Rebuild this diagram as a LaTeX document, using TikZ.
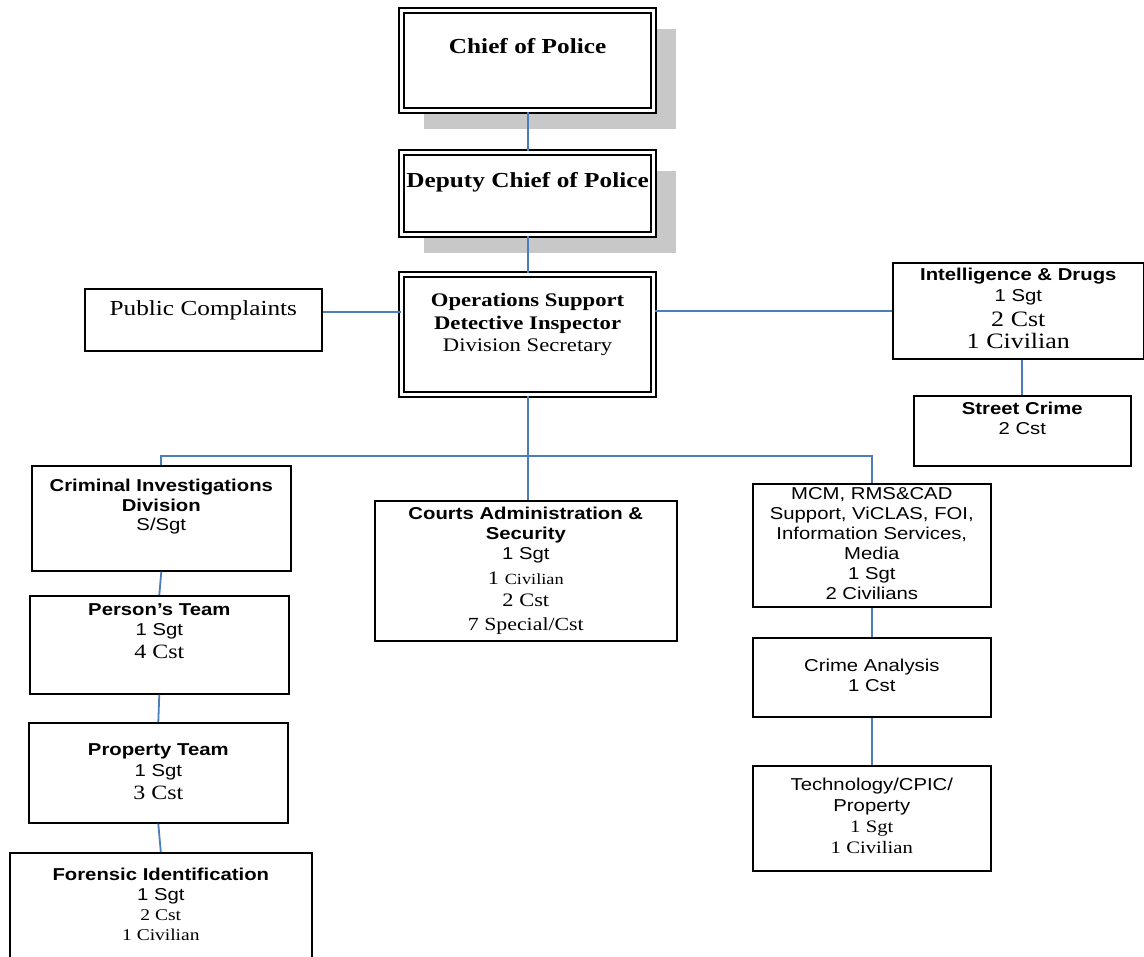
\documentclass[tikz,border=0pt]{standalone}
\usepackage{fontspec}
\setmainfont{Liberation Serif}[FakeStretch=1.18]
\setsansfont{Liberation Sans}[FakeStretch=1.18]
\usepackage{xcolor}
\usepackage{tikz}
\usetikzlibrary{shadows}

\definecolor{linkblue}{HTML}{4A7EBB}
\definecolor{shadowgray}{HTML}{C8C8C8}

% one line (or block) of text, optional arg = distance from the line above
\newcommand{\hdr}[2][20]{{\sffamily\bfseries\fontsize{17.2}{#1}\selectfont\spaceskip=0.33em #2\par}}
\newcommand{\snf}[2][20]{{\sffamily\fontsize{17.2}{#1}\selectfont\spaceskip=0.33em #2\par}}
\newcommand{\srf}[3][22]{{\fontsize{#2}{#1}\selectfont\spaceskip=0.3em #3\par}}

\tikzset{
  unit/.style={draw, fill=white, line width=1.6pt, anchor=north west, inner sep=0pt, align=center},
  topunit/.style={unit, double, line width=2.2pt, double distance=2.5pt},
  boxshadow/.style={drop shadow={shadow xshift=22pt, shadow yshift=-18pt, fill=shadowgray, opacity=1}},
  link/.style={draw=linkblue, line width=1.8pt},
}

\begin{document}
\begin{tikzpicture}[x=1pt, y=-1pt]
\useasboundingbox (0,0) rectangle (1144,957);

% top of the chart
\node[topunit, boxshadow, text width=252pt, text height=43pt, text depth=57pt] (chief) at (400.5,9.5)
  {\srf{21.4}{\bfseries Chief of Police}};
\node[topunit, boxshadow, text width=252pt, text height=34.5pt, text depth=47.5pt] (deputy) at (400.5,151.5)
  {\srf{21.4}{\bfseries Deputy Chief of Police}};
\node[topunit, text width=252pt, text height=31.5pt, text depth=88.5pt] (ops) at (400.5,273.5)
  {\srf[23]{19.2}{\bfseries Operations Support\\Detective Inspector}\srf{19.2}{Division Secretary}};

% side units
\node[unit, text width=237pt, text height=27pt, text depth=35pt] (pub) at (84,288)
  {\srf{21.4}{Public Complaints}};
\node[unit, text width=251pt, text height=18pt, text depth=78pt] (intel) at (892,262)
  {\hdr{Intelligence \& Drugs}\snf[21]{1 Sgt}\srf[25]{22}{2 Cst}\srf[22]{22}{1 Civilian}};
\node[unit, text width=217pt, text height=19pt, text depth=51pt] (street) at (913,395)
  {\hdr{Street Crime}\snf{2 Cst}};

% left column
\node[unit, text width=259pt, text height=26pt, text depth=79pt] (cid) at (31,465)
  {\hdr{Criminal Investigations\\Division}\snf[19]{S/Sgt}};
\node[unit, text width=259pt, text height=20pt, text depth=78pt] (person) at (29,595)
  {\hdr{Person’s Team}\snf{1 Sgt}\srf[23]{20.3}{4 Cst}};
\node[unit, text width=259pt, text height=33pt, text depth=67pt] (property) at (28,722)
  {\hdr{Property Team}\snf[21]{1 Sgt}\srf[23]{20.3}{3 Cst}};
\node[unit, text width=302pt, text height=28pt, text depth=82pt] (forensic) at (9,852)
  {\hdr{Forensic Identification}\snf{1 Sgt}\srf[20]{16.5}{2 Cst}\srf[20]{16.5}{1 Civilian}};

% middle column
\node[unit, text width=302pt, text height=19pt, text depth=121pt] (courts) at (374,500)
  {\hdr{Courts Administration \&\\Security}\snf{1 Sgt}%
   \srf[25]{19}{1 {\fontsize{15.5}{25}\selectfont Civilian}}\srf[22]{19}{2 Cst}\srf[24]{18.5}{7 Special/Cst}};

% right column
\node[unit, text width=238pt, text height=16pt, text depth=107pt] (mcm) at (752,483)
  {\snf{MCM, RMS\&CAD\\Support, ViCLAS, FOI,\\Information Services,\\Media\\1 Sgt\\2 Civilians}};
\node[unit, text width=238pt, text height=34pt, text depth=45pt] (crime) at (752,637)
  {\snf{Crime Analysis\\1 Cst}};
\node[unit, text width=238pt, text height=25pt, text depth=80pt] (tech) at (752,765)
  {\snf[21]{Technology/CPIC/\\Property}\srf[21]{17.5}{1 Sgt}\srf[21]{17.5}{1 Civilian}};

% connectors
\coordinate (bus) at (526.5,456);
\draw[link] (chief.south) -- (deputy.north);
\draw[link] (deputy.south) -- (ops.north);
\draw[link] (pub.east |- 0,312) -- (ops.west |- 0,312);
\draw[link] (ops.east |- intel.west) -- (intel.west);
\draw[link] (street.north |- intel.south) -- (street.north);
\draw[link] (ops.south) -- (ops.south |- courts.north);
\draw[link] (cid.north) |- (bus) -| (mcm.north);
\draw[link] (cid.south) -- (person.north);
\draw[link] (person.south) -- (property.north);
\draw[link] (property.south) -- (forensic.north);
\draw[link] (mcm.south) -- (crime.north);
\draw[link] (crime.south) -- (tech.north);
\end{tikzpicture}
\end{document}
